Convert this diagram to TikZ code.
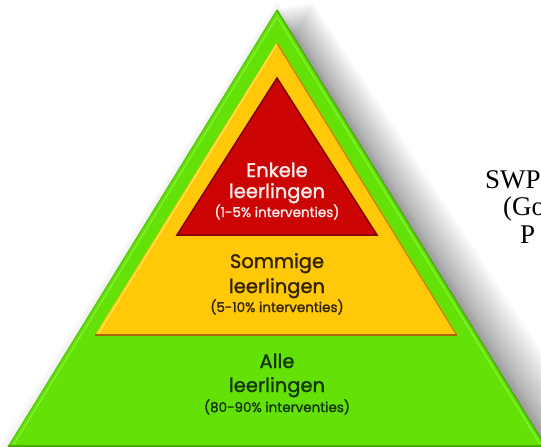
\documentclass[tikz,border=0pt]{standalone}
\usepackage{fontspec}
\setmainfont{Liberation Serif}
\newfontfamily\pyrfont[FakeBold=1.5]{Poppins}
\definecolor{grn}{RGB}{100,226,8}
\definecolor{grnlight}{RGB}{140,245,60}
\definecolor{grndark}{RGB}{70,170,0}
\definecolor{yel}{RGB}{255,200,8}
\definecolor{yellight}{RGB}{255,225,90}
\definecolor{yeldark}{RGB}{170,100,0}
\definecolor{rd}{RGB}{204,4,4}
\definecolor{rddark}{RGB}{130,0,0}
\definecolor{txtyel}{RGB}{50,35,5}
\definecolor{txtgrn}{RGB}{20,55,5}
\definecolor{txtred}{RGB}{250,235,235}
\tikzset{
  big/.style={font=\pyrfont\fontsize{19.5}{19.5}\selectfont, inner sep=0pt, anchor=base},
  small/.style={font=\pyrfont\fontsize{13.5}{13.5}\selectfont, inner sep=0pt, anchor=base},
  side/.style={font=\fontsize{27}{27}\selectfont, inner sep=0pt, anchor=base west, text=black},
}
\begin{document}
\begin{tikzpicture}[x=1pt,y=-1pt]
\useasboundingbox (0,0) rectangle (541,447);
\clip (0,0) rectangle (541,447);
\fill[white] (0,0) rectangle (541,447);
% soft shadow
\foreach \d in {2,4,...,60}{
  \fill[black, opacity=0.012] (277+0.6*\d,8-0.1*\d) -- (546+\d,447) -- (8+\d,447) -- cycle;
}
\foreach \d in {2,4,...,10}{
  \fill[black, opacity=0.012] (277,10-\d) -- (546+\d,447) -- (8-\d,447) -- cycle;
}
% green
\fill[grn] (277,10) -- (546,447) -- (8,447) -- cycle;
\draw[grndark, line width=1.2pt] (277,10) -- (546,447);
\draw[grndark!60!grn, line width=1pt] (277,10) -- (8,447);
\draw[grnlight, line width=1pt] (277,17) -- (540,444);
\draw[grnlight, line width=1pt] (277,17) -- (14,444);
\draw[grndark, line width=1.5pt] (8,446) -- (546,446);
% yellow
\fill[yel] (277,42) -- (457,335) -- (95,335) -- cycle;
\draw[yellight, line width=1.2pt] (277,44) -- (98,334);
\draw[yeldark!70!yel, line width=1.2pt] (277,43) -- (456,334);
\draw[yeldark, line width=2pt] (95,335) -- (457,335);
% red
\fill[rd] (277,78) -- (377,235) -- (177,235) -- cycle;
\draw[rddark, line width=1.5pt, line join=miter] (277,78) -- (377,235) -- (177,235) -- cycle;
% texts
\node[big, text=txtred] (r1) at (277,177) {Enkele};
\node[big, text=txtred] (r2) at (277,198) {leerlingen};
\node[small, text=txtred] (r3) at (277,217) {(1-5\% interventies)};
\node[big, text=txtyel] (y1) at (277,268) {Sommige};
\node[big, text=txtyel] (y2) at (277,293) {leerlingen};
\node[small, text=txtyel] (y3) at (277,312) {(5-10\% interventies)};
\node[big, text=txtgrn] (g1) at (277,368) {Alle};
\node[big, text=txtgrn] (g2) at (277,392) {leerlingen};
\node[small, text=txtgrn] (g3) at (277,412) {(80-90\% interventies)};
\node[side] (s1) at (485,188) {SWP};
\node[side] (s2) at (503,215) {(Go};
\node[side] (s3) at (520,243) {P};
\end{tikzpicture}
\end{document}
